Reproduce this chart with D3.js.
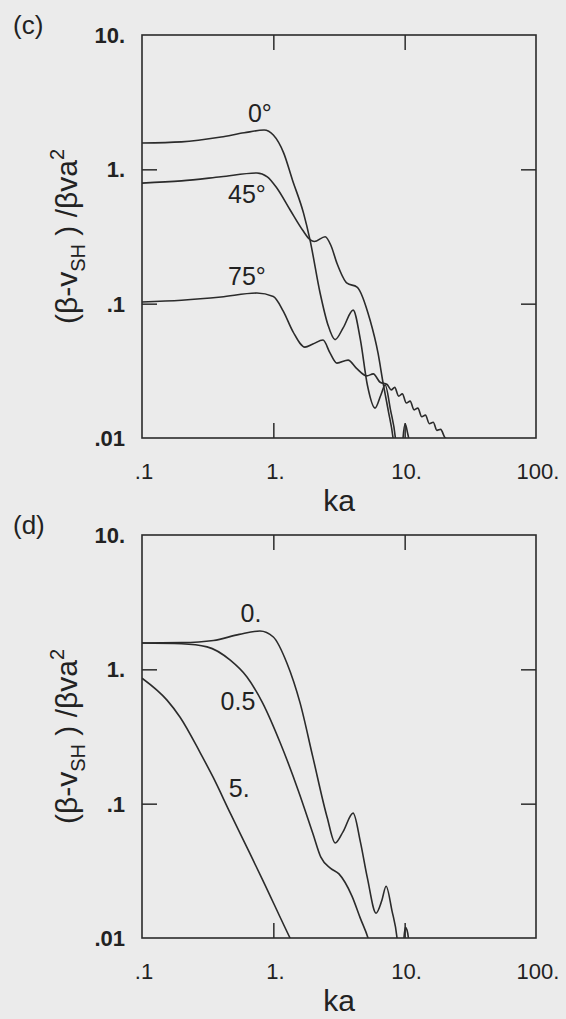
<!DOCTYPE html>
<html>
<head>
<meta charset="utf-8">
<script src="https://cdn.jsdelivr.net/npm/d3@7"></script>
<style>
  html, body { margin: 0; padding: 0; background: #ebebeb; }
  svg { display: block; }
  text { font-family: "Liberation Sans", Arial, Helvetica, sans-serif; fill: #222; }
</style>
</head>
<body>
<svg id="chart" width="566" height="1019"></svg>
<script>
// ---------- data ----------
const xTicks = [0.1, 1, 10, 100];
const xTickLabels = [".1", "1.", "10.", "100."];
const yTicks = [0.01, 0.1, 1, 10];
const yTickLabels = [".01", ".1", "1.", "10."];

// Panel (c): angle series
const kaC0  = [0.1, 0.2, 0.4, 0.6, 0.85, 1.0, 1.2, 1.4, 1.7, 1.9, 2.27, 2.6, 2.95, 3.4, 4.05, 4.6, 5.2, 5.95, 6.6, 7.1, 7.8, 8.5, 9.0, 9.5, 9.72, 10.1, 10.5, 10.8, 11.2];
const valC0 = [1.57, 1.6, 1.74, 1.87, 1.96, 1.8, 1.32, 0.83, 0.47, 0.30, 0.12, 0.07, 0.054, 0.066, 0.0895, 0.054, 0.0248, 0.0167, 0.021, 0.0248, 0.0162, 0.01, 0.005, 0.006, 0.01, 0.0127, 0.011, 0.0095, 0.006];

const kaC45  = [0.1, 0.2, 0.4, 0.75, 0.9, 1.07, 1.34, 1.68, 1.9, 2.05, 2.48, 2.75, 3.05, 3.64, 4.34, 5.45, 6.27, 6.85, 7.5, 8.16, 8.6];
const valC45 = [0.79, 0.82, 0.88, 0.94, 0.88, 0.72, 0.50, 0.35, 0.30, 0.29, 0.315, 0.27, 0.20, 0.142, 0.133, 0.0755, 0.0428, 0.0257, 0.016, 0.01, 0.006];

const kaC75  = [0.1, 0.2, 0.4, 0.75, 1.0, 1.19, 1.41, 1.74, 2.0, 2.39, 2.7, 3.05, 3.71, 4.3, 5.15, 5.77, 6.5, 7.35, 7.9, 8.4, 9.0, 9.6, 10.3, 11.0, 11.8, 12.6, 13.5, 14.4, 15.4, 16.5, 17.6, 18.8, 20.1, 21.5];
const valC75 = [0.103, 0.106, 0.112, 0.12, 0.113, 0.088, 0.062, 0.0475, 0.050, 0.0536, 0.043, 0.0361, 0.038, 0.033, 0.029, 0.030, 0.026, 0.0250, 0.0228, 0.0238, 0.0205, 0.0213, 0.0182, 0.0188, 0.0162, 0.0167, 0.0144, 0.0148, 0.0128, 0.0131, 0.0114, 0.0116, 0.0102, 0.0096];

// Panel (d): parameter series
const kaD0  = [0.1, 0.2, 0.35, 0.55, 0.79, 1.0, 1.27, 1.6, 2.0, 2.57, 2.96, 3.4, 4.05, 4.6, 5.2, 6.06, 6.7, 7.22, 8.0, 8.75, 9.3, 9.7, 10.1, 10.4, 10.8, 11.2];
const valD0 = [1.57, 1.58, 1.64, 1.82, 1.93, 1.74, 1.11, 0.56, 0.222, 0.079, 0.051, 0.062, 0.085, 0.052, 0.028, 0.0153, 0.019, 0.0243, 0.016, 0.01, 0.005, 0.008, 0.012, 0.0115, 0.009, 0.005];

const kaD05  = [0.1, 0.2, 0.313, 0.47, 0.63, 0.83, 1.13, 1.55, 2.0, 2.3, 2.73, 3.16, 3.97, 4.6, 5.26, 5.6];
const valD05 = [1.57, 1.55, 1.47, 1.17, 0.877, 0.561, 0.283, 0.125, 0.06, 0.040, 0.033, 0.030, 0.0205, 0.014, 0.01, 0.008];

const kaD5  = [0.1, 0.155, 0.195, 0.277, 0.347, 0.47, 0.66, 0.83, 1.34, 1.5];
const valD5 = [0.86, 0.59, 0.44, 0.24, 0.158, 0.085, 0.043, 0.027, 0.01, 0.008];

// curve labels (anchored in data units)
const labelsC = [
  {text: "0\u00B0",  ka: 0.79, val: 2.25},
  {text: "45\u00B0", ka: 0.63, val: 0.561},
  {text: "75\u00B0", ka: 0.63, val: 0.138}
];
const labelsD = [
  {text: "0.",  ka: 0.676, val: 2.25},
  {text: "0.5", ka: 0.538, val: 0.498},
  {text: "5.",  ka: 0.55,  val: 0.112}
];

// ---------- drawing ----------
const svg = d3.select("#chart");
const ink = "#2b2b2b";

function zip(xs, ys) { return xs.map((x, i) => ({x: x, y: ys[i]})); }

function drawPanel(cfg) {
  const left = 142, right = 536;
  const top = cfg.top, bottom = cfg.top + 403;
  const x = d3.scaleLog().domain([0.1, 100]).range([left, right]);
  const y = d3.scaleLog().domain([0.01, 10]).range([bottom, top]);

  const g = svg.append("g");

  const clipId = "clip-" + cfg.id;
  svg.append("defs").append("clipPath").attr("id", clipId)
    .append("rect").attr("x", left).attr("y", top).attr("width", right - left).attr("height", bottom - top);

  // axes (inward ticks)
  const tickLen = 15;
  g.append("g").attr("transform", `translate(0,${bottom})`)
    .call(d3.axisBottom(x).tickValues([1, 10]).tickSize(-tickLen).tickFormat(""))
    .call(s => s.select(".domain").remove());
  g.append("g").attr("transform", `translate(0,${top})`)
    .call(d3.axisTop(x).tickValues([1, 10]).tickSize(-tickLen).tickFormat(""))
    .call(s => s.select(".domain").remove());
  g.append("g").attr("transform", `translate(${left},0)`)
    .call(d3.axisLeft(y).tickValues([0.1, 1]).tickSize(-tickLen).tickFormat(""))
    .call(s => s.select(".domain").remove());
  g.append("g").attr("transform", `translate(${right},0)`)
    .call(d3.axisRight(y).tickValues([0.1, 1]).tickSize(-tickLen).tickFormat(""))
    .call(s => s.select(".domain").remove());
  g.selectAll(".tick line").attr("stroke", ink).attr("stroke-width", 1.5);

  // frame
  g.append("rect").attr("x", left).attr("y", top).attr("width", right - left).attr("height", bottom - top)
    .attr("fill", "none").attr("stroke", ink).attr("stroke-width", 1.6);

  // tick labels
  g.selectAll(".xl").data(xTicks).enter().append("text")
    .attr("x", d => x(d) + 2).attr("y", bottom + 41)
    .attr("text-anchor", "middle").style("font-size", "22px")
    .text((d, i) => xTickLabels[i]);
  g.selectAll(".yl").data(yTicks).enter().append("text")
    .attr("x", 125).attr("y", d => y(d) + 8)
    .attr("text-anchor", "end").style("font-size", "22px").style("font-weight", "bold")
    .text((d, i) => yTickLabels[i]);

  // x title
  g.append("text").attr("x", 339).attr("y", bottom + 73)
    .attr("text-anchor", "middle").style("font-size", "30px").text("ka");

  // y title
  const yt = g.append("text")
    .attr("transform", `translate(77,${(top + bottom) / 2}) rotate(-90)`)
    .attr("text-anchor", "middle").style("font-size", "30px");
  yt.append("tspan").text("(\u03B2-v");
  yt.append("tspan").attr("dy", 8).style("font-size", "20px").text("SH");
  yt.append("tspan").attr("dy", -8).text(" ) /\u03B2va");
  yt.append("tspan").attr("dy", -13).style("font-size", "20px").text("2");

  // panel letter
  g.append("text").attr("x", 13).attr("y", top - 1).style("font-size", "26px").text(cfg.letter);

  // curves
  const line = d3.line().x(d => x(d.x)).y(d => y(d.y)).curve(d3.curveMonotoneX);
  const cg = g.append("g").attr("clip-path", `url(#${clipId})`);
  cfg.series.forEach(s => {
    cg.append("path").datum(zip(s[0], s[1]))
      .attr("d", line).attr("fill", "none").attr("stroke", ink).attr("stroke-width", 1.6);
  });

  // curve labels
  g.selectAll(".cl").data(cfg.labels).enter().append("text")
    .attr("x", d => x(d.ka)).attr("y", d => y(d.val))
    .attr("text-anchor", "middle").style("font-size", "25px")
    .text(d => d.text);
}

drawPanel({id: "c", letter: "(c)", top: 35,
  series: [[kaC0, valC0], [kaC45, valC45], [kaC75, valC75]], labels: labelsC});
drawPanel({id: "d", letter: "(d)", top: 535,
  series: [[kaD0, valD0], [kaD05, valD05], [kaD5, valD5]], labels: labelsD});
</script>
</body>
</html>
